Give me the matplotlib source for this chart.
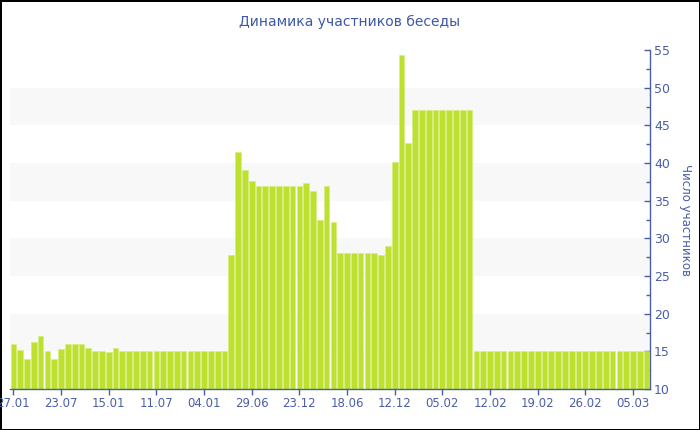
import matplotlib
matplotlib.use("Agg")
import matplotlib.pyplot as plt
from matplotlib.ticker import MultipleLocator

values = [
    16, 15.2, 14, 16.2, 17, 15, 14, 15.3, 16, 16, 16, 15.5, 15, 15, 14.9, 15.4,
    15, 15, 15, 15, 15, 15, 15, 15, 15, 15, 15, 15, 15, 15, 15, 15,
    27.8, 41.5, 39.1, 37.6,
    37, 37, 37, 37, 37, 37, 37,
    37.4, 36.3, 32.4, 37, 32.2,
    28, 28, 28, 28, 28, 28, 27.8, 29,
    40.1, 54.3, 42.7,
    47, 47, 47, 47, 47, 47, 47, 47, 47,
    15, 15, 15, 15, 15, 15, 15, 15, 15, 15, 15, 15, 15,
    15, 15, 15, 15, 15, 15, 15, 15, 15, 15, 15, 15, 15,
]
tick_labels = ["27.01", "23.07", "15.01", "11.07", "04.01", "29.06", "23.12",
               "18.06", "12.12", "05.02", "12.02", "19.02", "26.02", "05.03"]
title = "Динамика участников беседы"
ylabel = "Число участников"

axis_col = "#4a5ea8"
bar_col = "#bde12e"

fig = plt.figure(figsize=(7, 4.3), dpi=100)
fig.patch.set_facecolor("white")
fig.patch.set_edgecolor("black")
fig.patch.set_linewidth(2)
ax = fig.add_axes([10/700, 41/430, 640/700, 339/430])

ymin, ymax = 10, 55
for lo in range(15, ymax, 10):
    ax.axhspan(lo, lo + 5, color="#f8f8f8", zorder=0, lw=0)

x = list(range(len(values)))
ax.bar(x, values, width=0.84, color=bar_col, edgecolor="#d4ec7a", linewidth=0.4,
       zorder=2)

ax.set_xlim(-0.5, len(values) - 0.5)
ax.set_ylim(ymin, ymax)

ax.set_xticks([i * 7 for i in range(len(tick_labels))])
ax.set_xticklabels(tick_labels)

ax.yaxis.tick_right()
ax.yaxis.set_label_position("right")
ax.yaxis.set_major_locator(MultipleLocator(5))
ax.yaxis.set_minor_locator(MultipleLocator(2.5))
ax.tick_params(axis="y", which="major", direction="in", length=4, width=1,
               color=axis_col, labelcolor=axis_col, labelsize=9, pad=3)
ax.tick_params(axis="y", which="minor", direction="in", length=3, width=1,
               color=axis_col)
ax.tick_params(axis="x", direction="out", length=4, width=1, color=axis_col,
               labelcolor=axis_col, labelsize=8.5, pad=2)

for s in ["top", "left"]:
    ax.spines[s].set_visible(False)
for s in ["right", "bottom"]:
    ax.spines[s].set_color(axis_col)
    ax.spines[s].set_linewidth(1)

ax.set_ylabel(ylabel, rotation=270, color=axis_col, fontsize=8.5, labelpad=16)
fig.text(0.5, 1 - 22/430, title, ha="center", va="center", color="#3e58a3",
         fontsize=10)

fig.savefig("out.png", dpi=100)
